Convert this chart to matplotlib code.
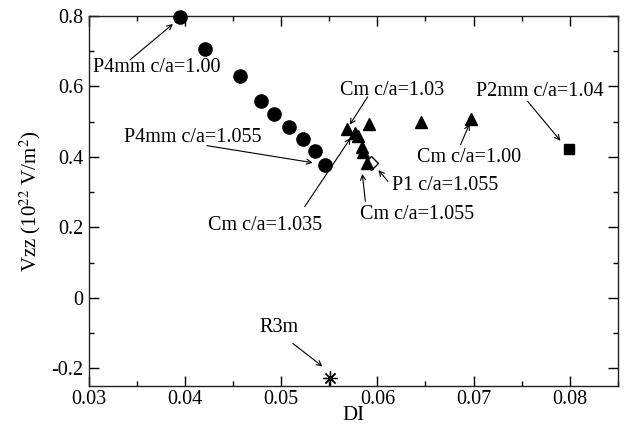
import matplotlib
matplotlib.use("Agg")
import matplotlib.pyplot as plt
from matplotlib.ticker import MultipleLocator, FuncFormatter

plt.rcParams['font.family'] = ['Liberation Serif', 'DejaVu Serif']
plt.rcParams['mathtext.fontset'] = 'stix'
plt.rcParams['axes.unicode_minus'] = False

# P4mm (circles)
p4mm_di = [0.03945, 0.04212, 0.04572, 0.04790, 0.04922, 0.05081, 0.05223, 0.05348, 0.05452]
p4mm_v = [0.798, 0.706, 0.630, 0.559, 0.522, 0.486, 0.452, 0.416, 0.376]
# Cm (triangles)
cm_di = [0.05684, 0.05764, 0.05798, 0.05912, 0.05840, 0.05850, 0.05892, 0.06455, 0.06976]
cm_v = [0.480, 0.469, 0.458, 0.493, 0.428, 0.413, 0.383, 0.498, 0.508]
# P1 (open diamond)
p1_di = [0.05937]
p1_v = [0.383]
# P2mm (square)
p2mm_di = [0.07997]
p2mm_v = [0.422]
# R3m (asterisk)
r3m_di = [0.05504]
r3m_v = [-0.228]

# annotations: label, text centre, arrow tail, arrow head (data coords)
ann_labels = ["P4mm c/a=1.00", "P4mm c/a=1.055", "Cm c/a=1.035", "Cm c/a=1.03",
              "Cm c/a=1.00", "P2mm c/a=1.04", "P1 c/a=1.055", "Cm c/a=1.055", "R3m"]
ann_text = [(0.03707, 0.6527), (0.04084, 0.4564), (0.04829, 0.2051), (0.06148, 0.5875),
            (0.06958, 0.3977), (0.07686, 0.5847), (0.06709, 0.3184), (0.06408, 0.2363),
            (0.04974, -0.0839)]
ann_tail = [(0.03426, 0.675), (0.04226, 0.432), (0.05244, 0.259), (0.05899, 0.5705),
            (0.06865, 0.4346), (0.07564, 0.5572), (0.0611, 0.3306), (0.05875, 0.274),
            (0.0512, -0.129)]
ann_head = [(0.03873, 0.777), (0.05327, 0.3836), (0.05722, 0.454), (0.05712, 0.4912),
            (0.06958, 0.4935), (0.07904, 0.4459), (0.0601, 0.3626), (0.05843, 0.352),
            (0.05429, -0.1943)]

xlim = (0.03, 0.085)
ylim = (-0.25, 0.8)

fig = plt.figure(figsize=(6.31, 4.29), dpi=100)
ax = fig.add_axes([0.141, 0.100, 0.838, 0.863])

ax.plot(p4mm_di, p4mm_v, 'o', color='black', markersize=9.5, linestyle='none', clip_on=False, zorder=3)
ax.plot(cm_di, cm_v, '^', color='black', markersize=9, linestyle='none', clip_on=False, zorder=3)
ax.plot(p1_di, p1_v, 'D', markerfacecolor='white', markeredgecolor='black', markeredgewidth=1.0,
        markersize=7, linestyle='none', clip_on=False, zorder=2)
ax.plot(p2mm_di, p2mm_v, 's', color='black', markersize=7.5, linestyle='none', clip_on=False, zorder=3)
ax.plot(r3m_di, r3m_v, marker=(8, 2, 0), color='black', markersize=10, markeredgewidth=0.9,
        linestyle='none', clip_on=False, zorder=3)

for lab, t, tail, head in zip(ann_labels, ann_text, ann_tail, ann_head):
    ax.text(t[0], t[1], lab, ha='center', va='center', fontsize=14.5, color='black')
    ax.annotate('', xy=head, xytext=tail,
                arrowprops=dict(arrowstyle='->', color='black', lw=0.8,
                                shrinkA=0, shrinkB=0, mutation_scale=9))

ax.set_xlim(*xlim)
ax.set_ylim(*ylim)
ax.xaxis.set_major_locator(MultipleLocator(0.01))
ax.xaxis.set_minor_locator(MultipleLocator(0.005))
ax.yaxis.set_major_locator(MultipleLocator(0.2))
ax.yaxis.set_minor_locator(MultipleLocator(0.1))
fmt = FuncFormatter(lambda v, p: ('%g' % round(v, 4)))
ax.xaxis.set_major_formatter(fmt)
ax.yaxis.set_major_formatter(fmt)
ax.tick_params(which='both', direction='in', top=True, right=True, labelsize=14.5, color='black')
ax.tick_params(which='major', length=7.5, width=1.0, pad=4)
ax.tick_params(axis='x', which='major', pad=3)
ax.tick_params(which='minor', length=3.5, width=1.0)
for s in ax.spines.values():
    s.set_linewidth(1.0)
    s.set_color('#222222')

ax.set_xlabel('DI', fontsize=15, labelpad=-2)
ax.set_ylabel(r'Vzz (10$^{22}$ V/m$^{2}$)', fontsize=15, labelpad=6)

fig.savefig('out.png', dpi=100)
